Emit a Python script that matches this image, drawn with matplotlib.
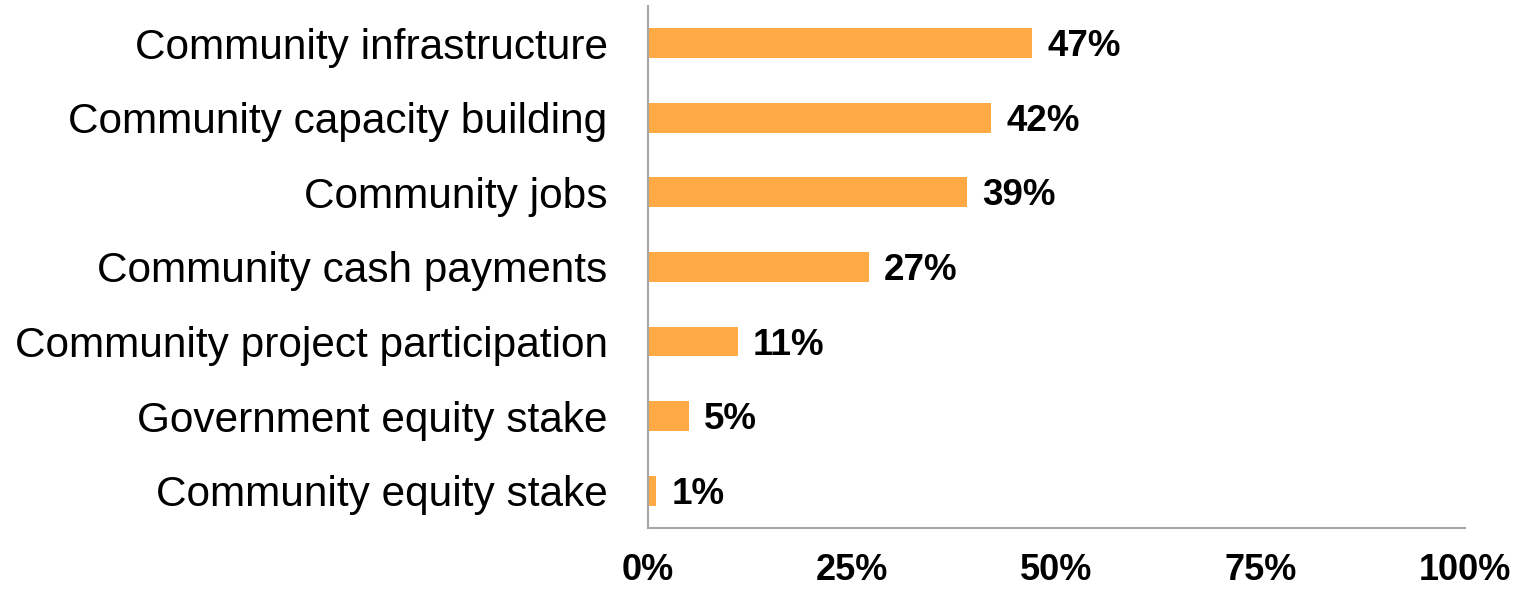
import matplotlib.pyplot as plt

categories = ['Community infrastructure', 'Community capacity building', 'Community jobs',
              'Community cash payments', 'Community project participation',
              'Government equity stake', 'Community equity stake']
values = [47, 42, 39, 27, 11, 5, 1]
xticks = [0, 25, 50, 75, 100]

plt.rcParams['font.family'] = ['Liberation Sans', 'DejaVu Sans']

fig = plt.figure(figsize=(15.34, 5.9), dpi=100)
ax = fig.add_axes([0.4224, 0.105, 0.5326, 0.885])

pos = list(range(len(categories)))
ax.barh(pos, values, height=0.4, color='#FFAA44')
for y, v in zip(pos, values):
    ax.annotate(f'{v}%', (v, y), xytext=(11, -2.5), textcoords='offset points',
                va='center', ha='left', fontsize=26.5, fontweight='bold')

ax.set_xlim(0, 100)
ax.set_ylim(6.5, -0.5)
ax.set_yticks(pos)
ax.set_yticklabels(categories, fontsize=30.5)
ax.set_xticks(xticks)
ax.set_xticklabels([f'{t}%' for t in xticks], fontsize=26, fontweight='bold')
ax.tick_params(axis='y', length=0, pad=29)
ax.tick_params(axis='x', length=0, pad=18)

for s in ['top', 'right']:
    ax.spines[s].set_visible(False)
for s in ['left', 'bottom']:
    ax.spines[s].set_color('#a6a6a6')
    ax.spines[s].set_linewidth(1.5)

fig.savefig('out.png')
